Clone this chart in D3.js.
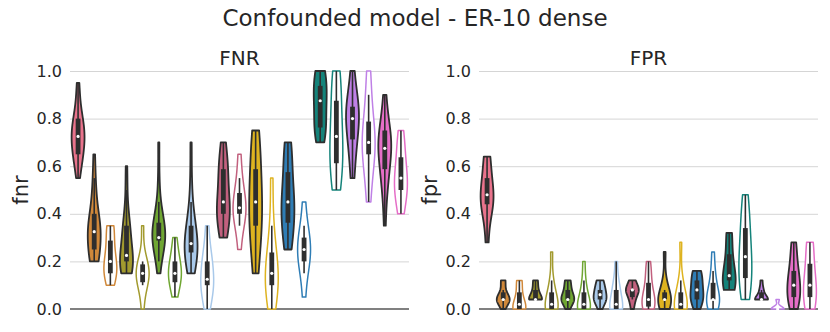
<!DOCTYPE html>
<html>
<head>
<meta charset="utf-8">
<script src="https://cdn.jsdelivr.net/npm/d3@7"></script>
<style>
  body { margin: 0; background: #fff; }
  svg { font-family: "DejaVu Sans", sans-serif; }
</style>
</head>
<body>
<svg id="chart"></svg>
<script>
let title = "Confounded model - ER-10 dense";
let yTicks = [0, 0.2, 0.4, 0.6, 0.8, 1.0];

// one colour per violin, first is the lone reference run, then pairs
let violinColors = [
    "#e9738c",
    "#d0883a", "#d0883a",
    "#a29a2e", "#a29a2e",
    "#6fa632", "#6fa632",
    "#a9c9ea", "#a9c9ea",
    "#c2607e", "#c2607e",
    "#deb320", "#deb320",
    "#2f7db5", "#2f7db5",
    "#14837a", "#14837a",
    "#bf80e6", "#bf80e6",
    "#e56ec7", "#e56ec7"
];
let violinFilled = [true,
    true, false, true, false, true, false, true, false, true, false,
    true, false, true, false, true, false, true, false, true, false];

let fnrValues = [
    [0.55, 0.6, 0.6, 0.65, 0.65, 0.65, 0.7, 0.7, 0.7, 0.7, 0.75, 0.75, 0.75, 0.75, 0.8, 0.8, 0.8, 0.85, 0.9, 0.95],
    [0.2, 0.2, 0.2, 0.2, 0.25, 0.25, 0.3, 0.3, 0.3, 0.3, 0.35, 0.35, 0.35, 0.35, 0.4, 0.4, 0.45, 0.5, 0.55, 0.65],
    [0.1, 0.15, 0.15, 0.15, 0.2, 0.2, 0.25, 0.3, 0.35, 0.35],
    [0.15, 0.15, 0.15, 0.15, 0.2, 0.2, 0.2, 0.2, 0.2, 0.2, 0.25, 0.25, 0.3, 0.3, 0.35, 0.35, 0.35, 0.4, 0.5, 0.6],
    [0.0, 0.1, 0.1, 0.15, 0.15, 0.15, 0.15, 0.2, 0.2, 0.35],
    [0.15, 0.2, 0.25, 0.25, 0.25, 0.3, 0.3, 0.3, 0.3, 0.3, 0.3, 0.35, 0.35, 0.35, 0.35, 0.4, 0.4, 0.45, 0.55, 0.7],
    [0.05, 0.1, 0.1, 0.15, 0.15, 0.15, 0.2, 0.2, 0.25, 0.3],
    [0.15, 0.15, 0.2, 0.2, 0.2, 0.25, 0.25, 0.25, 0.25, 0.25, 0.3, 0.3, 0.3, 0.35, 0.35, 0.35, 0.4, 0.45, 0.55, 0.7],
    [0.0, 0.05, 0.1, 0.1, 0.1, 0.15, 0.2, 0.2, 0.25, 0.35],
    [0.3, 0.35, 0.4, 0.4, 0.45, 0.45, 0.55, 0.6, 0.6, 0.7],
    [0.25, 0.35, 0.4, 0.4, 0.4, 0.45, 0.45, 0.5, 0.55, 0.65],
    [0.15, 0.25, 0.35, 0.35, 0.45, 0.45, 0.55, 0.6, 0.7, 0.75],
    [0.0, 0.05, 0.1, 0.1, 0.15, 0.15, 0.2, 0.25, 0.35, 0.55],
    [0.25, 0.3, 0.35, 0.4, 0.45, 0.45, 0.5, 0.6, 0.65, 0.7],
    [0.05, 0.15, 0.2, 0.2, 0.25, 0.25, 0.3, 0.3, 0.35, 0.45],
    [0.7, 0.75, 0.75, 0.8, 0.85, 0.9, 0.9, 0.95, 1.0, 1.0],
    [0.5, 0.55, 0.6, 0.65, 0.7, 0.75, 0.8, 0.9, 0.95, 1.0],
    [0.55, 0.65, 0.7, 0.75, 0.8, 0.8, 0.85, 0.85, 0.9, 1.0],
    [0.45, 0.55, 0.65, 0.65, 0.7, 0.7, 0.75, 0.8, 0.9, 1.0],
    [0.35, 0.45, 0.5, 0.55, 0.55, 0.6, 0.6, 0.65, 0.65, 0.65, 0.7, 0.7, 0.7, 0.7, 0.75, 0.75, 0.75, 0.8, 0.85, 0.9],
    [0.4, 0.45, 0.5, 0.5, 0.55, 0.55, 0.6, 0.65, 0.7, 0.75]
];

let fprValues = [
    [0.28, 0.4, 0.44, 0.44, 0.48, 0.48, 0.52, 0.56, 0.64, 0.64],
    [0, 0.04, 0.04, 0.04, 0.04, 0.04, 0.04, 0.08, 0.12, 0.12],
    [0, 0, 0, 0, 0, 0.04, 0.04, 0.08, 0.12, 0.12],
    [0.04, 0.04, 0.04, 0.04, 0.04, 0.04, 0.08, 0.08, 0.12, 0.12],
    [0, 0, 0, 0, 0, 0.04, 0.04, 0.08, 0.12, 0.24],
    [0, 0.04, 0.04, 0.04, 0.04, 0.04, 0.08, 0.08, 0.12, 0.12],
    [0, 0, 0, 0, 0, 0.04, 0.04, 0.08, 0.12, 0.2],
    [0, 0.04, 0.04, 0.04, 0.04, 0.08, 0.08, 0.08, 0.12, 0.12],
    [0, 0, 0, 0, 0, 0.04, 0.08, 0.08, 0.12, 0.2],
    [0, 0.04, 0.04, 0.08, 0.08, 0.08, 0.08, 0.08, 0.12, 0.12],
    [0, 0, 0, 0.04, 0.04, 0.04, 0.08, 0.12, 0.16, 0.2],
    [0, 0, 0.04, 0.04, 0.04, 0.04, 0.04, 0.08, 0.12, 0.24],
    [0, 0, 0, 0, 0, 0.04, 0.04, 0.08, 0.12, 0.28],
    [0, 0.04, 0.04, 0.04, 0.08, 0.08, 0.12, 0.12, 0.16, 0.16],
    [0, 0, 0.04, 0.04, 0.04, 0.04, 0.08, 0.12, 0.16, 0.24],
    [0.08, 0.08, 0.12, 0.12, 0.12, 0.16, 0.2, 0.24, 0.32, 0.32],
    [0.04, 0.08, 0.12, 0.16, 0.2, 0.24, 0.28, 0.36, 0.4, 0.48],
    [0.04, 0.04, 0.04, 0.04, 0.04, 0.04, 0.04, 0.08, 0.08, 0.12],
    [0, 0, 0, 0, 0, 0, 0, 0, 0.04, 0.04],
    [0, 0.04, 0.04, 0.08, 0.08, 0.12, 0.16, 0.16, 0.24, 0.28],
    [0, 0, 0.04, 0.08, 0.08, 0.12, 0.16, 0.2, 0.28, 0.28]
];

let darkGray = "#2e2e2e";

function chartConfig(){
    let width = 830;
    let height = 332;
    let top = 71;
    let bottom = 309;
    let panelWidth = 339;
    let container = d3.select("#chart")
        .attr("width", width)
        .attr("height", height);
    return {width, height, top, bottom, panelWidth, container};
}

// gaussian kde, scott bandwidth, cut at the data range
function density(values){
    let n = values.length;
    let sd = d3.deviation(values);
    let bw = sd * Math.pow(n, -0.2);
    let lo = d3.min(values), hi = d3.max(values);
    let grid = d3.range(100).map(i => lo + (hi - lo) * i / 99);
    return grid.map(g => [g, d3.sum(values, v => Math.exp(-0.5 * ((g - v) / bw) ** 2))]);
}

function drawPanel(data, panelTitle, yLabel, left, config){
    let {top, bottom, panelWidth, container} = config;
    let g = container.append("g");

    let yScale = d3.scaleLinear().domain([0, 1]).range([bottom, top]);
    let xScale = d3.scaleBand()
        .domain(d3.range(data.length))
        .range([left, left + panelWidth]);

    // grid + tick labels
    let yAxis = d3.axisLeft(yScale)
        .tickValues(yTicks)
        .tickFormat(d3.format(".1f"))
        .tickSize(-panelWidth)
        .tickPadding(8);
    let axisG = g.append("g")
        .attr("transform", `translate(${left},0)`)
        .call(yAxis);
    axisG.select(".domain").remove();
    axisG.selectAll(".tick line").attr("stroke", "#d5d5d5").attr("stroke-width", 1);
    axisG.selectAll(".tick text")
        .attr("fill", "#262626")
        .style("font-size", "16px")
        .style("font-family", "DejaVu Sans");

    g.append("line")
        .attr("x1", left).attr("x2", left + panelWidth)
        .attr("y1", yScale(0)).attr("y2", yScale(0))
        .attr("stroke", "#808080").attr("stroke-width", 2);

    let half = xScale.bandwidth() * 0.4;
    let area = d3.area()
        .y(d => yScale(d[0]))
        .curve(d3.curveLinear);

    data.forEach((values, i) => {
        let cx = xScale(i) + xScale.bandwidth() / 2;
        let dens = density(values);
        let maxD = d3.max(dens, d => d[1]);
        area.x0(d => cx - d[1] / maxD * half)
            .x1(d => cx + d[1] / maxD * half);
        let filled = violinFilled[i];
        g.append("path")
            .attr("d", area(dens) + "Z")
            .attr("fill", filled ? violinColors[i] : "#ffffff")
            .attr("stroke", filled ? darkGray : violinColors[i])
            .attr("stroke-width", filled ? 1.8 : 1.5)
            .attr("stroke-linejoin", "round");

        let sorted = values.slice().sort(d3.ascending);
        let q1 = d3.quantile(sorted, 0.25);
        let q2 = d3.quantile(sorted, 0.5);
        let q3 = d3.quantile(sorted, 0.75);
        let lim = 1.5 * (q3 - q1);
        let w1 = d3.min(sorted.filter(v => v >= q1 - lim));
        let w2 = d3.max(sorted.filter(v => v <= q3 + lim));

        g.append("line")
            .attr("x1", cx).attr("x2", cx)
            .attr("y1", yScale(w1)).attr("y2", yScale(w2))
            .attr("stroke", darkGray).attr("stroke-width", 1.6);
        g.append("line")
            .attr("x1", cx).attr("x2", cx)
            .attr("y1", yScale(q1)).attr("y2", yScale(q3))
            .attr("stroke", darkGray).attr("stroke-width", 4.8);
        g.append("circle")
            .attr("cx", cx).attr("cy", yScale(q2))
            .attr("r", 1.6)
            .attr("fill", "#ffffff");
    });

    g.append("text")
        .attr("x", left + panelWidth / 2)
        .attr("y", 65)
        .attr("text-anchor", "middle")
        .attr("fill", "#262626")
        .style("font-size", "20px")
        .text(panelTitle);

    g.append("text")
        .attr("transform", `translate(${left - 42},${(top + bottom) / 2}) rotate(-90)`)
        .attr("text-anchor", "middle")
        .attr("fill", "#262626")
        .style("font-size", "21px")
        .text(yLabel);
}

function drawChart(){
    let config = chartConfig();
    config.container.append("text")
        .attr("x", config.width / 2)
        .attr("y", 26)
        .attr("text-anchor", "middle")
        .attr("fill", "#262626")
        .style("font-size", "23px")
        .text(title);
    drawPanel(fnrValues, "FNR", "fnr", 70, config);
    drawPanel(fprValues, "FPR", "fpr", 479, config);
}

drawChart();
</script>
</body>
</html>
